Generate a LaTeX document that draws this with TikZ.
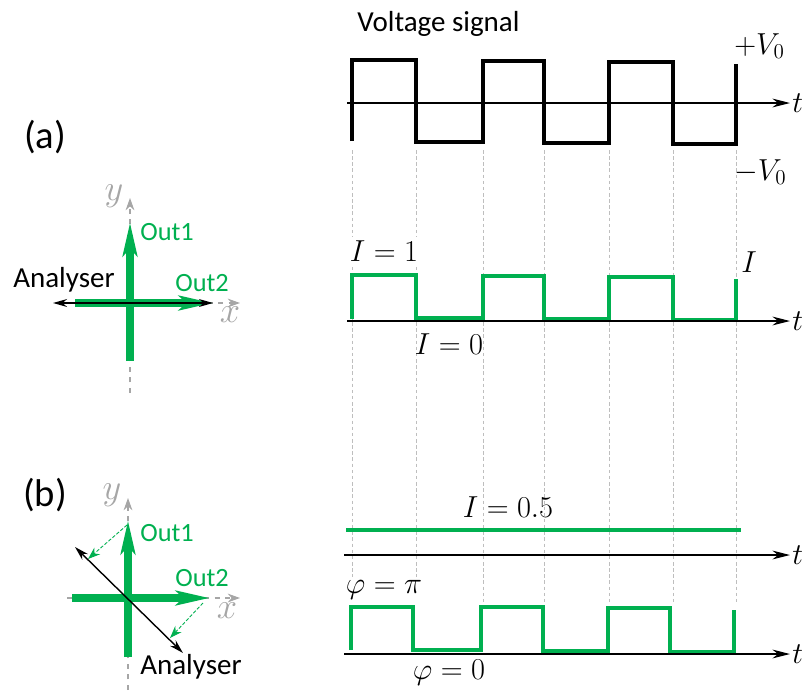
\documentclass[tikz,border=0pt]{standalone}
\usepackage[no-math]{fontspec}
\setmainfont{Carlito}
\usetikzlibrary{arrows.meta}
\definecolor{outgreen}{RGB}{0,176,80}
\definecolor{axisgray}{RGB}{166,166,166}
\definecolor{guidegray}{RGB}{190,190,190}

\begin{document}
\begin{tikzpicture}[
  x=0.02cm, y=-0.02cm,
  txt/.style={font=\fontsize{16.5}{19}\selectfont, inner sep=0pt},
  gtxt/.style={font=\fontsize{15}{18}\selectfont, inner sep=0pt, text=outgreen},
  mlbl/.style={font=\fontsize{16.5}{19}\selectfont, inner sep=0pt},
  panel/.style={font=\fontsize{22}{26}\selectfont, inner sep=0pt},
  axlbl/.style={font=\fontsize{21}{24}\selectfont, inner sep=0pt, text=axisgray},
  guide/.style={guidegray, line width=0.4pt, dash pattern=on 2pt off 1.5pt},
  taxis/.style={-{Stealth[length=10pt,width=5pt]}, line width=0.7pt},
  gaxis/.style={axisgray, dashed, line width=0.6pt, -{Stealth[length=7pt,width=5pt]}},
  voltage/.style={line width=2.4pt},
  intens/.style={outgreen, line width=2.4pt},
  field/.style={outgreen, line width=4pt, -{Stealth[length=19pt,width=8pt,inset=4pt]}},
  analyser/.style={line width=0.8pt, {Stealth[length=8pt,width=4.5pt]}-{Stealth[length=8pt,width=4.5pt]}},
  proj/.style={outgreen, line width=0.5pt, dash pattern=on 2pt off 1pt, -{Stealth[length=7pt,width=5pt]}}
]
\useasboundingbox (0,0) rectangle (802,697);

% dashed time guides
\foreach \gx in {352,416,483,544,609,673,736}
  \draw[guide] (\gx,150) -- (\gx,602);

% ---- (a) voltage signal
\draw[voltage] (352,141) -- (352,60) -- (416,60) -- (416,142) -- (483,142) -- (483,61)
  -- (544,61) -- (544,143) -- (609,143) -- (609,62) -- (673,62) -- (673,144)
  -- (736,144) -- (736,64);
\coordinate (va) at (347,103); \coordinate (vb) at (790,103);
\draw[taxis] (va) -- (vb);
\node[mlbl, anchor=west] (vt) at (792,103) {$t$};
\node[txt, anchor=base west] (vtitle) at (357,31) {Voltage signal};
\node[mlbl, anchor=west] (vplus) at (734,46) {$+V_0$};
\node[mlbl, anchor=west] (vminus) at (734,172) {$-V_0$};

% ---- (a) intensity
\draw[intens] (352,319) -- (352,275) -- (416,275) -- (416,318) -- (483,318) -- (483,276)
  -- (544,276) -- (544,319) -- (609,319) -- (609,277) -- (673,277) -- (673,320)
  -- (736,320) -- (736,279);
\coordinate (ia) at (347,321); \coordinate (ib) at (790,321);
\draw[taxis] (ia) -- (ib);
\node[mlbl, anchor=west] (it) at (792,321) {$t$};
\node[mlbl, fill=white, inner sep=2pt] (ione) at (384,251) {$I=1$};
\node[mlbl] (izero) at (449,344) {$I=0$};
\node[mlbl] (iname) at (749,262) {$I$};

% ---- (b) intensity
\coordinate (ha) at (346,530); \coordinate (hb) at (741,530);
\draw[intens] (ha) -- (hb);
\node[mlbl] (ihalf) at (508,507) {$I=0.5$};
\coordinate (ja) at (344,555); \coordinate (jb) at (790,555);
\draw[taxis] (ja) -- (jb);
\node[mlbl, anchor=west] (jt) at (792,555) {$t$};

% ---- (b) phase
\draw[intens] (351,650) -- (351,607) -- (413,607) -- (413,650) -- (481,650) -- (481,607)
  -- (543,607) -- (543,651) -- (608,651) -- (608,608) -- (670,608) -- (670,652)
  -- (734,652) -- (734,610);
\coordinate (pa) at (344,654); \coordinate (pb) at (790,654);
\draw[taxis] (pa) -- (pb);
\node[mlbl, anchor=west] (pt) at (792,654) {$t$};
\node[mlbl, fill=white, inner sep=2pt] (phipi) at (384,590) {$\varphi=\pi$};
\node[mlbl] (phizero) at (449,673) {$\varphi=0$};

% ---- left, (a)
\node[panel] (pla) at (45,137) {(a)};
\coordinate (ay0) at (130,393); \coordinate (ay1) at (130,198);
\coordinate (ax0) at (60,303);  \coordinate (ax1) at (240,303);
\draw[gaxis] (ay0) -- (ay1);
\draw[gaxis] (ax0) -- (ax1);
\node[axlbl] (aylbl) at (114,196) {$y$};
\node[axlbl] (axlbl) at (230,315) {$x$};
\coordinate (ao1a) at (130,361); \coordinate (ao1b) at (130,222);
\coordinate (ao2a) at (75,303);  \coordinate (ao2b) at (213,303);
\draw[field] (ao1a) -- (ao1b);
\draw[field] (ao2a) -- (ao2b);
\coordinate (ana) at (53,303); \coordinate (anb) at (213,303);
\draw[analyser] (ana) -- (anb);
\node[gtxt, anchor=west] (aout1) at (140,232) {Out1};
\node[gtxt, anchor=west] (aout2) at (175,283) {Out2};
\node[txt, anchor=west] (aan) at (13,280) {Analyser};

% ---- left, (b)
\node[panel] (plb) at (45,495) {(b)};
\coordinate (by0) at (128,690); \coordinate (by1) at (128,498);
\coordinate (bx0) at (67,598);  \coordinate (bx1) at (240,598);
\draw[gaxis] (by0) -- (by1);
\draw[gaxis] (bx0) -- (bx1);
\node[axlbl] (bylbl) at (112,495) {$y$};
\node[axlbl] (bxlbl) at (227,611) {$x$};
\coordinate (bo1a) at (128,657); \coordinate (bo1b) at (128,520);
\coordinate (bo2a) at (72,598);  \coordinate (bo2b) at (210,598);
\draw[field] (bo1a) -- (bo1b);
\draw[field] (bo2a) -- (bo2b);
\coordinate (bna) at (75,547); \coordinate (bnb) at (183,653);
\draw[analyser] (bna) -- (bnb);
\coordinate (pr1a) at (127,525); \coordinate (pr1b) at (88,559);
\coordinate (pr2a) at (203,603); \coordinate (pr2b) at (170,638);
\draw[proj] (pr1a) -- (pr1b);
\draw[proj] (pr2a) -- (pr2b);
\node[gtxt, anchor=west] (bout1) at (140,533) {Out1};
\node[gtxt, anchor=west] (bout2) at (175,578) {Out2};
\node[txt, anchor=west] (ban) at (140,667) {Analyser};
\end{tikzpicture}
\end{document}
